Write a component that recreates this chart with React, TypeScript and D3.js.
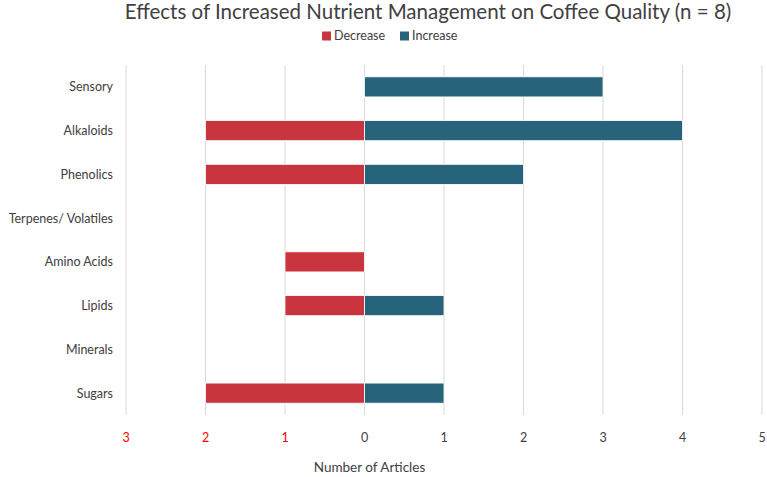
import React, { useEffect, useRef } from 'react';
import * as d3 from 'd3';

const categories = ['Sensory', 'Alkaloids', 'Phenolics', 'Terpenes/ Volatiles', 'Amino Acids', 'Lipids', 'Minerals', 'Sugars'];
const decrease = [0, 2, 2, 0, 1, 1, 0, 2];
const increase = [3, 4, 2, 0, 0, 1, 0, 1];
const ticks = [-3, -2, -1, 0, 1, 2, 3, 4, 5];

const W = 767;
const H = 477;
const RED = '#C9353F';
const BLUE = '#27637A';
const FONT = 'Lato, "Noto Sans", sans-serif';

export default function App() {
  const ref = useRef<SVGSVGElement>(null);

  useEffect(() => {
    if (!ref.current) return;
    const svg = d3.select(ref.current);
    svg.selectAll('*').remove();

    const x = d3.scaleLinear().domain([-3, 5]).range([126, 762]);
    const y = d3.scaleBand<string>().domain(categories).range([65, 415]).paddingInner(0.54).paddingOuter(0.27);

    // gridlines
    svg.append('g')
      .selectAll('line')
      .data(ticks)
      .join('line')
      .attr('x1', d => x(d)).attr('x2', d => x(d))
      .attr('y1', 65).attr('y2', 415)
      .attr('stroke', '#d9d9d9').attr('stroke-width', 1);

    const rows = categories.map((c, i) => ({ c, dec: decrease[i], inc: increase[i] }));

    svg.append('g')
      .selectAll('rect')
      .data(rows.filter(r => r.dec > 0))
      .join('rect')
      .attr('x', d => x(-d.dec))
      .attr('y', d => y(d.c)!)
      .attr('width', d => x(0) - x(-d.dec))
      .attr('height', y.bandwidth())
      .attr('fill', RED)
      .attr('stroke', '#fff').attr('stroke-width', 0.8);

    svg.append('g')
      .selectAll('rect')
      .data(rows.filter(r => r.inc > 0))
      .join('rect')
      .attr('x', x(0))
      .attr('y', d => y(d.c)!)
      .attr('width', d => x(d.inc) - x(0))
      .attr('height', y.bandwidth())
      .attr('fill', BLUE)
      .attr('stroke', '#fff').attr('stroke-width', 0.8);

    // category labels
    svg.append('g')
      .selectAll('text')
      .data(categories)
      .join('text')
      .attr('x', 113)
      .attr('y', d => y(d)! + y.bandwidth() / 2)
      .attr('dy', '0.35em')
      .attr('text-anchor', 'end')
      .attr('font-size', 12.5)
      .attr('fill', '#404040')
      .text(d => d);

    // tick labels
    svg.append('g')
      .selectAll('text')
      .data(ticks)
      .join('text')
      .attr('x', d => x(d))
      .attr('y', 438)
      .attr('dy', '0.35em')
      .attr('text-anchor', 'middle')
      .attr('font-size', 12.5)
      .attr('fill', d => (d < 0 ? '#FF0000' : '#404040'))
      .text(d => Math.abs(d));

    svg.append('text')
      .attr('x', x(0) + 5)
      .attr('y', 467)
      .attr('dy', '0.35em')
      .attr('text-anchor', 'middle')
      .attr('font-size', 13.5)
      .attr('fill', '#404040')
      .text('Number of Articles');

    // title
    svg.append('text')
      .attr('x', 428)
      .attr('y', 19)
      .attr('text-anchor', 'middle')
      .attr('font-size', 20.5)
      .attr('fill', '#404040')
      .text('Effects of Increased Nutrient Management on Coffee Quality (n = 8)');

    // legend
    const legend = [
      { label: 'Decrease', color: RED, x: 322 },
      { label: 'Increase', color: BLUE, x: 400 },
    ];
    const lg = svg.append('g').selectAll('g').data(legend).join('g')
      .attr('transform', d => `translate(${d.x},36)`);
    lg.append('rect').attr('x', 0).attr('y', -4.5).attr('width', 9).attr('height', 9).attr('fill', d => d.color);
    lg.append('text').attr('x', 12).attr('y', 0).attr('dy', '0.35em')
      .attr('font-size', 12.5).attr('fill', '#404040').text(d => d.label);
  }, []);

  return (
    <svg ref={ref} width={W} height={H} fontFamily={FONT}
      style={{ position: 'absolute', left: 0, top: 0, background: '#fff' }} />
  );
}
